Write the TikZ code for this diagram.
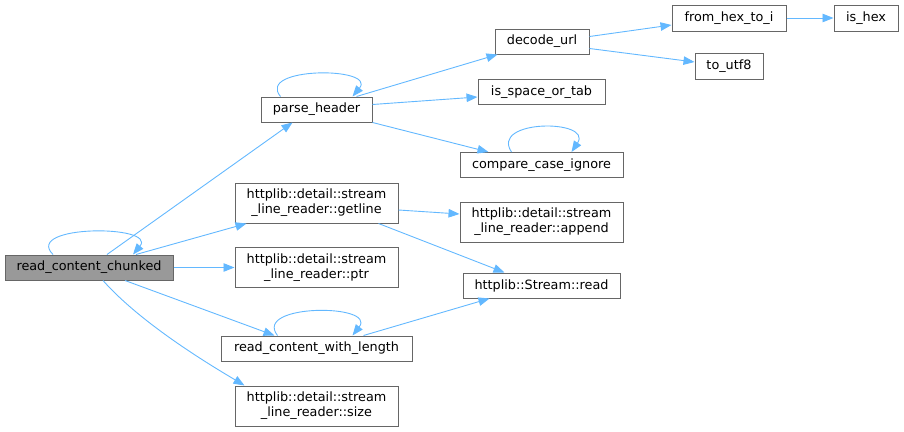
\documentclass[tikz,border=0pt]{standalone}
\usepackage{fontspec}
\setmainfont{DejaVu Sans}
\usetikzlibrary{arrows.meta}
\definecolor{edgeblue}{HTML}{63B8FF}
\definecolor{boxgray}{HTML}{666666}
\definecolor{curfill}{HTML}{999999}

\begin{document}
\begin{tikzpicture}[x=1pt,y=-1pt,
  fn/.style={draw=boxgray,line width=1pt,fill=white,inner sep=0pt,
    minimum height=25pt,align=center,font=\fontsize{12.8}{15}\selectfont},
  fntwo/.style={fn,minimum height=40pt},
  call/.style={draw=edgeblue,line width=0.9pt,-{Triangle[length=11pt,width=8.5pt]}}]
  \useasboundingbox (0,0) rectangle (904,431);

  % functions
  \node[fn,fill=curfill,minimum width=168pt] (rcc) at (89,267.5) {read\_content\_chunked};
  \node[fn,minimum width=111pt] (ph) at (316.5,109.5) {parse\_header};
  \node[fntwo,minimum width=163pt] (gl) at (316.5,203) {httplib::detail::stream\\\_line\_reader::getline};
  \node[fntwo,minimum width=163pt] (ptr) at (316.5,267.5) {httplib::detail::stream\\\_line\_reader::ptr};
  \node[fn,minimum width=191pt] (rcwl) at (316.5,348.5) {read\_content\_with\_length};
  \node[fntwo,minimum width=163pt] (size) at (316.5,406) {httplib::detail::stream\\\_line\_reader::size};
  \node[fn,minimum width=94pt] (du) at (542,41.5) {decode\_url};
  \node[fn,minimum width=127pt] (isot) at (541.5,92) {is\_space\_or\_tab};
  \node[fn,minimum width=163pt] (cci) at (541.5,165) {compare\_case\_ignore};
  \node[fntwo,minimum width=163pt] (app) at (541.5,222) {httplib::detail::stream\\\_line\_reader::append};
  \node[fn,minimum width=157pt] (sr) at (541.5,285.5) {httplib::Stream::read};
  \node[fn,minimum width=114pt,minimum height=26pt] (fh) at (729,18) {from\_hex\_to\_i};
  \node[fn,minimum width=68pt,minimum height=26pt] (utf) at (729,66) {to\_utf8};
  \node[fn,minimum width=64pt,minimum height=26pt] (hex) at (866,18) {is\_hex};

  % self calls
  \draw[call] ([xshift=-36pt]rcc.north) .. controls +(-30,-30) and +(25,-30) .. ([xshift=44pt]rcc.north);
  \draw[call] ([xshift=-36pt]ph.north) .. controls +(-25,-30) and +(25,-30) .. ([xshift=36pt]ph.north);
  \draw[call] ([xshift=-30pt]cci.north) .. controls +(-22,-33) and +(22,-33) .. ([xshift=30pt]cci.north);
  \draw[call] ([xshift=-39pt]rcwl.north) .. controls +(-25,-32) and +(25,-32) .. ([xshift=36pt]rcwl.north);

  % calls
  \draw[call] ([xshift=18pt]rcc.north) -- ([xshift=-24pt]ph.south);
  \draw[call] ([xshift=47pt]rcc.north) -- ([xshift=-70pt]gl.south);
  \draw[call] (rcc.east) -- (ptr.west);
  \draw[call] ([xshift=36pt]rcc.south) -- ([xshift=-42pt]rcwl.north);
  \draw[call] ([xshift=14pt]rcc.south) .. controls +(40,45) and +(-30,-18) .. ([xshift=-72pt]size.north);
  \draw[call] ([xshift=40pt]ph.north) -- ([xshift=3pt]du.south west);
  \draw[call] ([yshift=5pt]ph.east) -- ([yshift=-5pt]isot.west);
  \draw[call] (ph.south east) -- ([xshift=-53pt]cci.north);
  \draw[call] ([yshift=5pt]du.east) -- ([yshift=-7pt]fh.west);
  \draw[call] ([yshift=-7pt]du.east) -- ([yshift=4pt]utf.west);
  \draw[call] (fh.east) -- (hex.west);
  \draw[call] ([yshift=-7pt]gl.east) -- ([yshift=8pt]app.west);
  \draw[call] ([xshift=62pt]gl.south) -- ([xshift=-37pt]sr.north);
  \draw[call] ([xshift=47pt]rcwl.north) -- ([xshift=-52pt]sr.south);
\end{tikzpicture}
\end{document}
